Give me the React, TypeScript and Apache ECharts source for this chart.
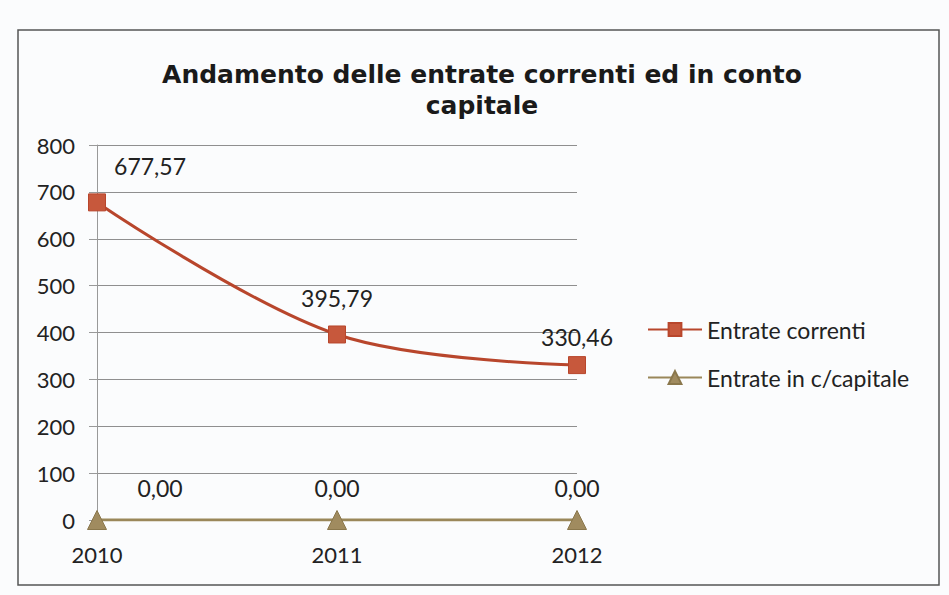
import React, { useEffect, useRef } from "react";
import * as echarts from "echarts";

const years = ["2010", "2011", "2012"];
const entrateCorrenti = [677.57, 395.79, 330.46];
const entrateCapitale = [0, 0, 0];
const titleText = "Andamento delle entrate correnti ed in conto\ncapitale";
const seriesNames = ["Entrate correnti", "Entrate in c/capitale"];

const FONT = "Lato, 'Open Sans', sans-serif";
const TITLE_FONT = "'DejaVu Sans', Verdana, sans-serif";
const fmt = (v: number) => v.toFixed(2).replace(".", ",");

export default function App() {
  const ref = useRef<HTMLDivElement>(null);
  useEffect(() => {
    if (!ref.current) return;
    const chart = echarts.init(ref.current, undefined, { renderer: "svg" });
    const labelBase = {
      show: true,
      position: "top" as const,
      fontFamily: FONT,
      fontSize: 23,
      color: "#222",
      formatter: (p: any) => fmt(p.value),
    };
    chart.setOption({
      animation: false,
      backgroundColor: "#fbfcfd",
      title: {
        text: titleText,
        left: 477,
        textAlign: "center",
        top: 54,
        textStyle: {
          fontFamily: TITLE_FONT,
          fontWeight: "bold",
          fontSize: 25,
          lineHeight: 31,
          color: "#1a1a1a",
        },
      },
      graphic: [
        {
          type: "rect",
          shape: { x: 18, y: 30, width: 921, height: 555 },
          style: { fill: "none", stroke: "#555", lineWidth: 1.5 },
          silent: true,
        },
      ],
      legend: {
        orient: "vertical",
        left: 642,
        top: 313,
        itemGap: 25,
        itemWidth: 54,
        itemHeight: 16,
        textStyle: { fontFamily: FONT, fontSize: 23, color: "#222" },
        data: seriesNames,
      },
      grid: { left: 97, right: 372, top: 145, bottom: 75 },
      xAxis: {
        type: "category",
        data: years,
        boundaryGap: false,
        axisLine: { show: true, lineStyle: { color: "#888" } },
        axisTick: { show: false },
        axisLabel: {
          fontFamily: FONT,
          fontSize: 22,
          color: "#222",
          margin: 23,
        },
      },
      yAxis: {
        type: "value",
        min: 0,
        max: 800,
        interval: 100,
        axisLine: { show: true, lineStyle: { color: "#999" } },
        axisTick: { show: true, length: 8, lineStyle: { color: "#999" } },
        splitLine: { show: true, lineStyle: { color: "#8f8f8f", width: 1 } },
        axisLabel: {
          fontFamily: FONT,
          fontSize: 22,
          color: "#222",
          margin: 22,
        },
      },
      series: [
        {
          name: seriesNames[0],
          type: "line",
          smooth: 0.35,
          data: entrateCorrenti.map((v, i) =>
            i === 0
              ? { value: v, label: { offset: [53, 0] } }
              : i === 2
              ? { value: v, label: { offset: [0, 8] } }
              : { value: v }
          ),
          symbol: "rect",
          symbolSize: 17,
          lineStyle: { color: "#b8462c", width: 3 },
          itemStyle: { color: "#c7583c", borderColor: "#b8462c", borderWidth: 1 },
          label: { ...labelBase, distance: 16 },
          z: 3,
        },
        {
          name: seriesNames[1],
          type: "line",
          data: entrateCapitale.map((v, i) =>
            i === 0
              ? { value: v, label: { offset: [63, 0] } }
              : { value: v }
          ),
          symbol: "triangle",
          symbolSize: 19,
          lineStyle: { color: "#9a875a", width: 3 },
          itemStyle: { color: "#a08b5f", borderColor: "#8a774c", borderWidth: 1 },
          label: { ...labelBase, distance: 11 },
          z: 4,
        },
      ],
    });
    return () => chart.dispose();
  }, []);
  return (
    <div
      ref={ref}
      style={{ position: "fixed", left: 0, top: 0, width: 949, height: 595 }}
    />
  );
}
